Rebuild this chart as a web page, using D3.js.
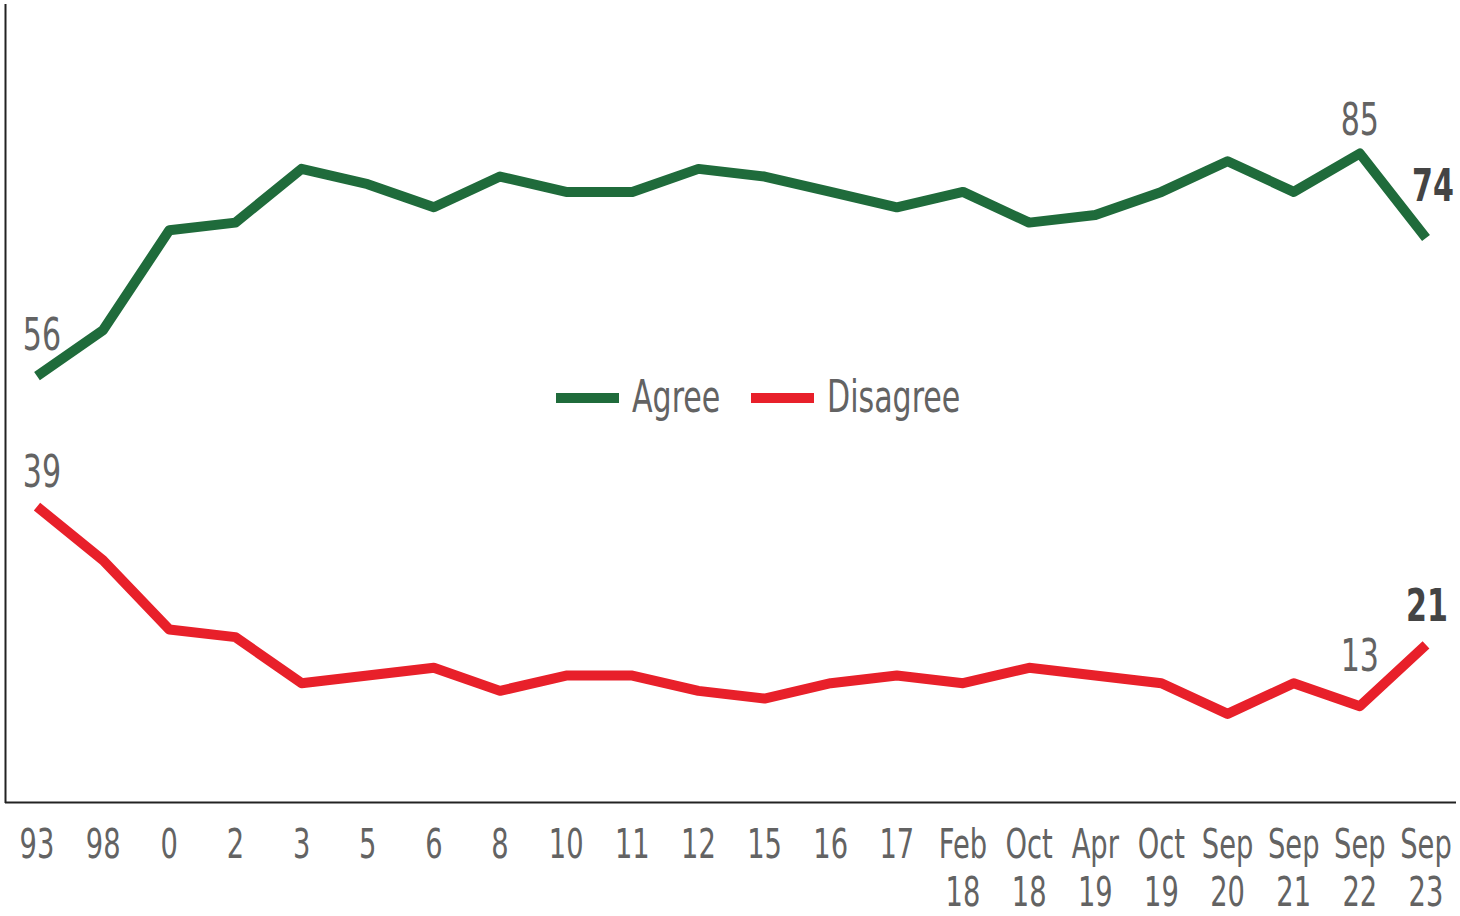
<!DOCTYPE html>
<html>
<head>
<meta charset="utf-8">
<script src="https://cdn.jsdelivr.net/npm/d3@7"></script>
<style>
  body { margin: 0; background: #fff; }
  svg text { font-family: "DejaVu Sans Condensed", "Liberation Sans Narrow", sans-serif; fill: #636363; }
</style>
</head>
<body>
<svg id="chart" width="1460" height="916"></svg>
<script>
var periods = ["93", "98", "0", "2", "3", "5", "6", "8", "10", "11", "12", "15", "16", "17",
               "Feb 18", "Oct 18", "Apr 19", "Oct 19", "Sep 20", "Sep 21", "Sep 22", "Sep 23"];
var agree = [56, 62, 75, 76, 83, 81, 78, 82, 80, 80, 83, 82, 80, 78, 80, 76, 77, 80, 84, 80, 85, 74];
var disagree = [39, 32, 23, 22, 16, 17, 18, 15, 17, 17, 15, 14, 16, 17, 16, 18, 17, 16, 12, 16, 13, 21];

var svg = d3.select("#chart");

var x = d3.scalePoint().domain(periods).range([37, 1426]);
var y = d3.scaleLinear().domain([0, 105]).range([806, 0]);

var SX = 0.76; // squeeze text to look like a condensed face

// text helper: narrow the glyphs around the anchor point
function addText(parent, tx, ty, str, opts) {
    opts = opts || {};
    var g = parent.append("g").attr("transform", "translate(" + tx + "," + ty + ") scale(" + SX + ",1)");
    return g.append("text")
        .attr("x", 0).attr("y", 0)
        .attr("text-anchor", opts.anchor || "middle")
        .attr("font-size", opts.size || 42)
        .attr("font-weight", opts.bold ? "bold" : "normal")
        .style("fill", opts.color || "#636363")
        .text(str);
}

// frame: left and bottom axis lines
svg.append("line").attr("x1", 5.5).attr("y1", 4).attr("x2", 5.5).attr("y2", 803)
    .attr("stroke", "#222").attr("stroke-width", 2);
svg.append("line").attr("x1", 5).attr("y1", 802.5).attr("x2", 1456).attr("y2", 802.5)
    .attr("stroke", "#222").attr("stroke-width", 2);

// x tick labels, split in two lines
var tickG = svg.append("g");
periods.forEach(function(d) {
    d.split(" ").forEach(function(p, i) {
        addText(tickG, x(d), 858 + i * 48, p, {size: 40});
    });
});

var line = d3.line()
    .x(function(d, i) { return x(periods[i]); })
    .y(function(d) { return y(d); });

svg.append("path").datum(agree).attr("d", line)
    .attr("fill", "none").attr("stroke", "#1f6b3b").attr("stroke-width", 10).attr("stroke-linejoin", "round");
svg.append("path").datum(disagree).attr("d", line)
    .attr("fill", "none").attr("stroke", "#e8202a").attr("stroke-width", 10).attr("stroke-linejoin", "round");

// data labels
var last = periods.length - 1;
function label(series, idx, dx, dy, bold) {
    addText(svg, x(periods[idx]) + dx, y(series[idx]) + dy, series[idx],
        {size: 44, bold: bold, color: bold ? "#444" : "#636363"});
}
label(agree, 0, 5, -26, false);
label(disagree, 0, 5, -20, false);
label(agree, 20, 0, -19, false);
label(agree, last, 7, -37, true);
label(disagree, 20, 0, -35, false);
label(disagree, last, 1, -24, true);

// legend
var legend = [{name: "Agree", color: "#1f6b3b", x: 556}, {name: "Disagree", color: "#e8202a", x: 751}];
var lg = svg.append("g");
legend.forEach(function(d) {
    lg.append("line")
        .attr("x1", d.x).attr("x2", d.x + 63)
        .attr("y1", 398).attr("y2", 398)
        .attr("stroke", d.color).attr("stroke-width", 10);
    addText(lg, d.x + 76, 412, d.name, {size: 44, anchor: "start"});
});
</script>
</body>
</html>
